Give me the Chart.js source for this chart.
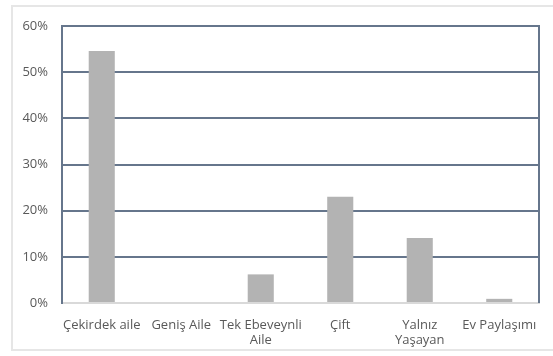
<!DOCTYPE html>
<html>
<head>
<meta charset="utf-8">
<script src="https://cdn.jsdelivr.net/npm/chart.js@4"></script>
<style>
html,body{margin:0;padding:0;background:#fff;}
#wrap{position:relative;width:553px;height:356px;}
#frame{position:absolute;left:11px;top:5px;width:560px;height:346px;border:2px solid #e6e6e6;box-sizing:border-box;}
#chart{position:absolute;left:0;top:0;}
</style>
</head>
<body>
<div id="wrap">
<div id="frame"></div>
<canvas id="chart" width="553" height="356"></canvas>
</div>
<script>
// kategoriler ve oranlar (%)
const kategoriler = ["Çekirdek aile", "Geniş Aile", ["Tek Ebeveynli", "Aile"], "Çift", ["Yalnız", "Yaşayan"], "Ev Paylaşımı"];
const oranlar = [54.6, 0, 6.2, 23.0, 14.1, 0.9];
const yTicks = [0, 10, 20, 30, 40, 50, 60];

const GRID = "#66768c";
const YAZI = "#595959";

// sag kenar cizgisi
const sagKenar = {
id: "sagKenar",
afterDraw(chart){
const a = chart.chartArea, c = chart.ctx;
c.save();
c.strokeStyle = GRID;
c.lineWidth = 2;
c.beginPath();
c.moveTo(a.right, a.top - 1);
c.lineTo(a.right, a.bottom);
c.stroke();
c.restore();
}
};

new Chart(document.getElementById("chart"), {
type: "bar",
data: {
labels: kategoriler,
datasets: [{
data: oranlar,
backgroundColor: "#b3b3b3",
barPercentage: 0.4,
categoryPercentage: 0.82
}]
},
options: {
responsive: false,
animation: false,
layout: { padding: { top: 26, right: 14, left: 0, bottom: 0 } },
plugins: { legend: { display: false }, tooltip: { enabled: false } },
scales: {
x: {
grid: { display: false },
border: { color: "#d9d9d9", width: 2 },
ticks: {
color: YAZI,
font: { family: "Open Sans", size: 13, lineHeight: 1.15 },
padding: 7,
maxRotation: 0,
autoSkip: false
},
afterFit(s){ s.height = 53; }
},
y: {
min: 0,
max: 60,
afterBuildTicks(s){ s.ticks = yTicks.map(v => ({ value: v })); },
grid: {
color: ctx => ctx.tick && ctx.tick.value === 0 ? "rgba(0,0,0,0)" : GRID,
lineWidth: 2,
drawTicks: false
},
border: { color: GRID, width: 2 },
ticks: {
color: YAZI,
font: { family: "Open Sans", size: 13 },
padding: 14,
callback: v => v + "%"
},
afterFit(s){ s.width = 62; }
}
}
},
plugins: [sagKenar]
});
</script>
</body>
</html>
